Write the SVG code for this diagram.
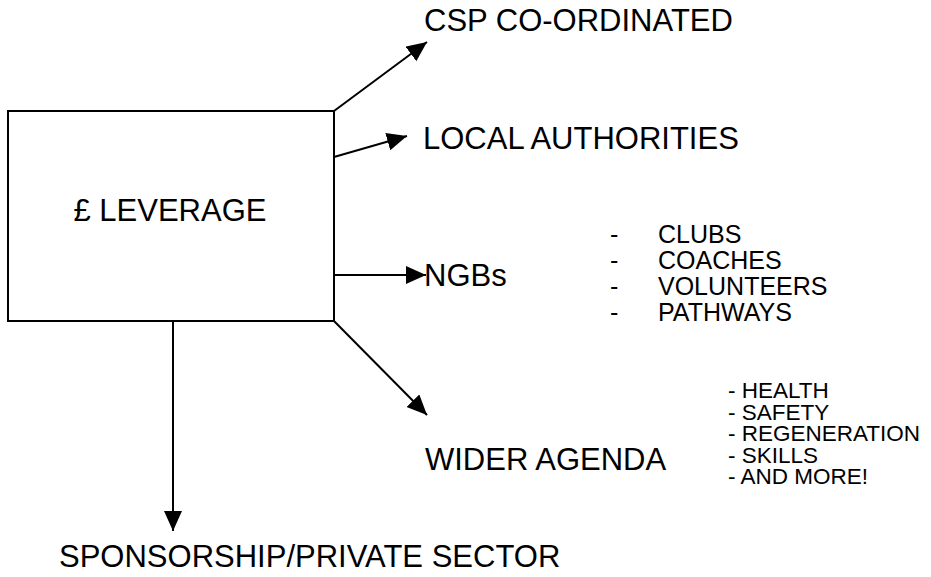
<svg xmlns="http://www.w3.org/2000/svg" width="931" height="577" viewBox="0 0 931 577">
<style>
text{font-family:"Liberation Sans",Arial,sans-serif;fill:#000}
.big{font-size:31px}
.mid{font-size:25px}
.sm{font-size:22.5px}
.c{stroke:#000;stroke-width:2;fill:none;marker-end:url(#ah)}
</style>
<defs>
<marker id="ah" markerUnits="userSpaceOnUse" markerWidth="22" markerHeight="20" refX="20" refY="9" orient="auto">
<path d="M0,0 L20,9 L0,18 z" fill="#000"/>
</marker>
</defs>
<rect width="931" height="577" fill="#fff"/>
<g id="leverage">
<rect x="8" y="111" width="326" height="210" fill="#fff" stroke="#000" stroke-width="2"/>
<text class="big" x="170" y="221" text-anchor="middle">£ LEVERAGE</text>
</g>
<g id="connectors">
<line class="c" x1="334" y1="111" x2="427" y2="42"/>
<line class="c" x1="334" y1="157" x2="407" y2="136"/>
<line class="c" x1="334" y1="275" x2="426" y2="275"/>
<line class="c" x1="334" y1="321" x2="427" y2="415"/>
<line class="c" x1="173" y1="321" x2="173" y2="531"/>
</g>
<g id="csp"><text class="big" x="424" y="31">CSP CO-ORDINATED</text></g>
<g id="local"><text class="big" x="423" y="149">LOCAL AUTHORITIES</text></g>
<g id="ngbs"><text class="big" x="424" y="286">NGBs</text></g>
<g id="ngb-list">
<text class="mid" x="610" y="243">-</text><text class="mid" x="658" y="243">CLUBS</text>
<text class="mid" x="610" y="269">-</text><text class="mid" x="658" y="269">COACHES</text>
<text class="mid" x="610" y="295">-</text><text class="mid" x="658" y="295">VOLUNTEERS</text>
<text class="mid" x="610" y="321">-</text><text class="mid" x="658" y="321">PATHWAYS</text>
</g>
<g id="wider"><text class="big" x="425" y="470">WIDER AGENDA</text></g>
<g id="wider-list">
<text class="sm" x="728" y="398">- HEALTH</text>
<text class="sm" x="728" y="419.5">- SAFETY</text>
<text class="sm" x="728" y="441">- REGENERATION</text>
<text class="sm" x="728" y="462.5">- SKILLS</text>
<text class="sm" x="728" y="484">- AND MORE!</text>
</g>
<g id="sponsorship"><text class="big" x="59" y="567">SPONSORSHIP/PRIVATE SECTOR</text></g>
</svg>
